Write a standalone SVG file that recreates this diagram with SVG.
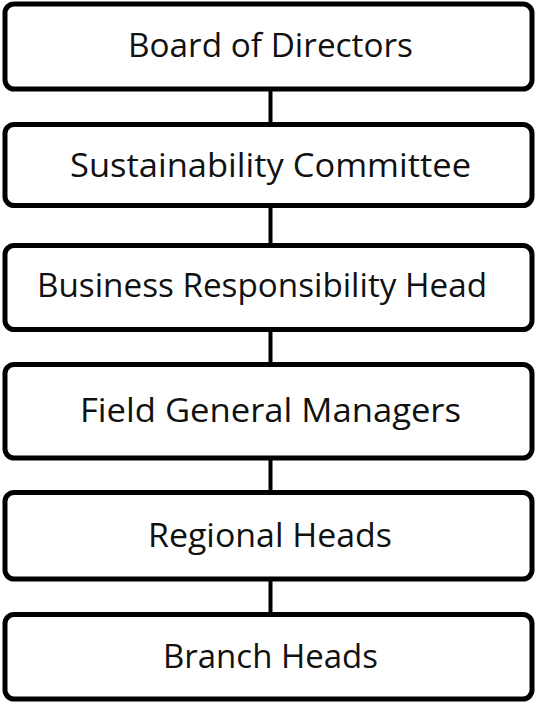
<svg xmlns="http://www.w3.org/2000/svg" width="537" height="702" viewBox="0 0 537 702">
  <style>
    .box { fill: #ffffff; stroke: #000000; stroke-width: 5; }
    .label { font-family: "Open Sans", "Liberation Sans", sans-serif; font-size: 32px; fill: #111111; text-anchor: middle; }
    .link { stroke: #000000; stroke-width: 4; fill: none; }
  </style>
  <rect width="537" height="702" fill="#ffffff"/>

  <!-- vertical connectors between levels -->
  <g id="connectors">
    <line class="link" x1="270.5" y1="89" x2="270.5" y2="124.5"/>
    <line class="link" x1="270.5" y1="205.5" x2="270.5" y2="245.5"/>
    <line class="link" x1="270.5" y1="329.5" x2="270.5" y2="364.5"/>
    <line class="link" x1="270.5" y1="458" x2="270.5" y2="492.5"/>
    <line class="link" x1="270.5" y1="579" x2="270.5" y2="614.5"/>
  </g>

  <g id="board-of-directors">
    <rect class="box" x="5" y="4" width="527" height="85" rx="9"/>
    <text class="label" x="270.5" y="57" textLength="285" lengthAdjust="spacingAndGlyphs">Board of Directors</text>
  </g>

  <g id="sustainability-committee">
    <rect class="box" x="5" y="124.5" width="527" height="81" rx="9"/>
    <text class="label" x="270.5" y="177" textLength="401" lengthAdjust="spacingAndGlyphs">Sustainability Committee</text>
  </g>

  <g id="business-responsibility-head">
    <rect class="box" x="5" y="245.5" width="527" height="84" rx="9"/>
    <text class="label" x="262" y="297" textLength="450" lengthAdjust="spacingAndGlyphs">Business Responsibility Head</text>
  </g>

  <g id="field-general-managers">
    <rect class="box" x="5" y="364.5" width="527" height="93.5" rx="9"/>
    <text class="label" x="270.5" y="422" textLength="381" lengthAdjust="spacingAndGlyphs">Field General Managers</text>
  </g>

  <g id="regional-heads">
    <rect class="box" x="5" y="492.5" width="527" height="86.5" rx="9"/>
    <text class="label" x="270" y="547" textLength="244" lengthAdjust="spacingAndGlyphs">Regional Heads</text>
  </g>

  <g id="branch-heads">
    <rect class="box" x="5" y="614.5" width="527" height="84.5" rx="9"/>
    <text class="label" x="270.5" y="668" textLength="215" lengthAdjust="spacingAndGlyphs">Branch Heads</text>
  </g>
</svg>
